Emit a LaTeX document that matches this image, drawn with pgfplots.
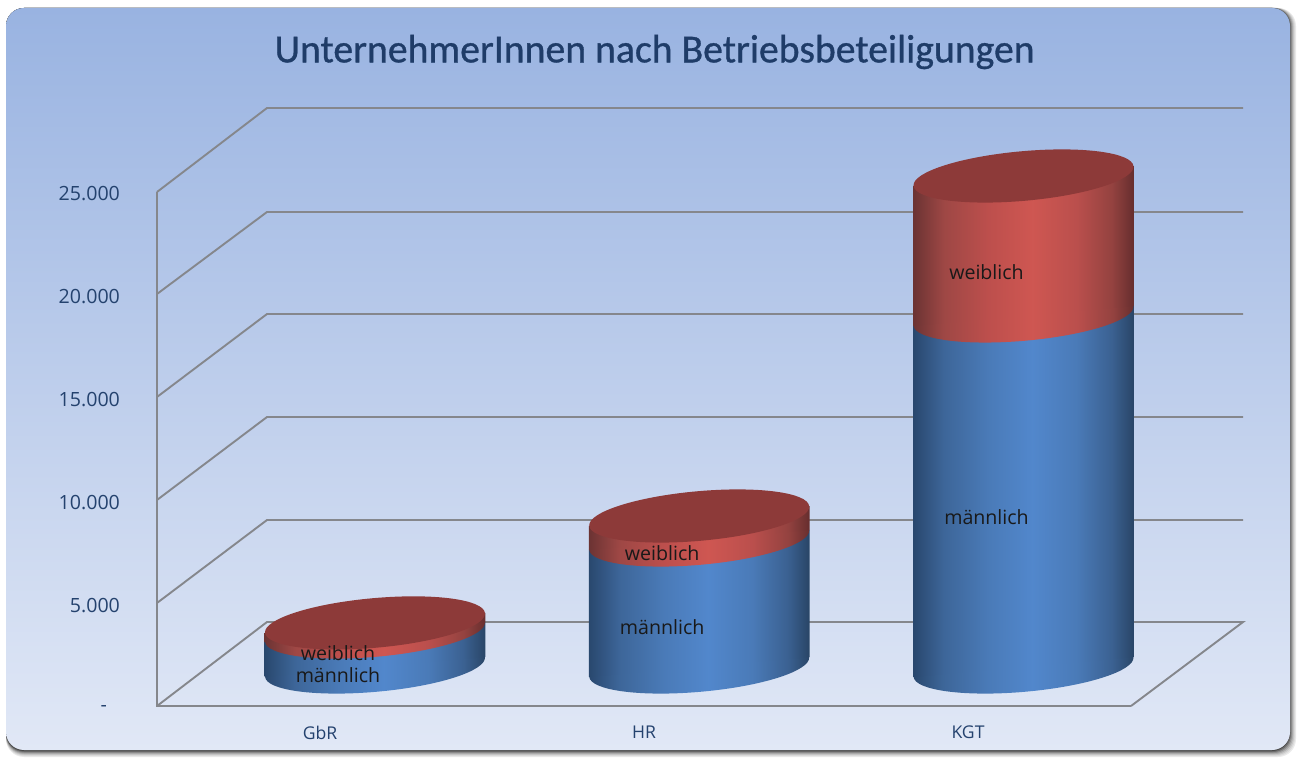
\documentclass[border=0pt]{standalone}
\usepackage{fontspec}
\setmainfont{Open Sans}
\newfontfamily\titlefont[FakeBold=0.8]{Carlito}
\usepackage{pgfplots}
\pgfplotsset{compat=1.18}
\definecolor{ink}{HTML}{24426E}
\definecolor{titleink}{HTML}{1F3C68}
\definecolor{gridc}{HTML}{85878C}
\definecolor{topred}{HTML}{8D3A39}
\definecolor{cardtop}{HTML}{99B3E1}
\definecolor{cardbot}{HTML}{E1E8F6}
\pgfdeclarehorizontalshading{cylblue}{100bp}{rgb(0bp)=(.16,.28,.43);rgb(25bp)=(.16,.28,.43);rgb(32bp)=(.24,.40,.60);rgb(42bp)=(.29,.48,.72);rgb(52bp)=(.32,.53,.80);rgb(62bp)=(.29,.48,.72);rgb(70bp)=(.23,.38,.57);rgb(75bp)=(.16,.27,.40);rgb(100bp)=(.16,.27,.40)}
\pgfdeclarehorizontalshading{cylred}{100bp}{rgb(0bp)=(.42,.20,.20);rgb(25bp)=(.42,.20,.20);rgb(32bp)=(.62,.28,.27);rgb(42bp)=(.74,.31,.30);rgb(52bp)=(.81,.34,.32);rgb(62bp)=(.73,.31,.30);rgb(70bp)=(.58,.26,.25);rgb(75bp)=(.40,.18,.18);rgb(100bp)=(.40,.18,.18)}
\pgfplotsset{cyl/.style={
  anchor=origin, hide axis, clip=false,
  x={(0.5pt,0.045pt)}, y={(0pt,0.0103pt)},
  xmin=-110, xmax=110, ymin=0, ymax=26000}}
\tikzset{ell/.style={x radius=55.2pt, y radius=12.4pt, rotate=5.1}}
% #1 x position, #2 männlich, #3 männlich + weiblich, #4 and #5 heights of the two labels
\newcommand{\cylinder}[5]{%
\begin{axis}[cyl, at={(#1pt,46.5pt)}]
\path[shade,shading=cylblue] (axis cs:0,0) ellipse [ell];
\addplot[draw=none,shade,shading=cylblue] coordinates {(-110.4,0)(110.4,0)(110.4,#2)(-110.4,#2)};
\end{axis}
\begin{axis}[cyl, at={(#1pt,46.5pt)}]
\path[shade,shading=cylred] (axis cs:0,#2) ellipse [ell];
\addplot[draw=none,shade,shading=cylred] coordinates {(-110.4,#2)(110.4,#2)(110.4,#3)(-110.4,#3)};
\coordinate (top) at (axis cs:0,#3);
\coordinate (lm) at (axis cs:-37,#4);
\coordinate (lw) at (axis cs:-37,#5);
\end{axis}
\fill[topred] (top) ellipse [ell];
\node[font=\fontsize{9.8}{11}\selectfont,text=black!90] at (lw) {weiblich};
\node[font=\fontsize{9.8}{11}\selectfont,text=black!90] at (lm) {männlich};
}
\begin{document}
\begin{tikzpicture}
\useasboundingbox (0,0) rectangle (650pt,380pt);
% card with soft shadow
\foreach \o/\g in {0/8,0.5/14,1/22,1.5/32,2/44,2.5/58,3/72}{
  \fill[black!\g!white, rounded corners=9pt] (3pt,{1.5pt+\o*1pt}) rectangle ({648pt-\o*1pt},376pt);
}
\shade[top color=cardtop,bottom color=cardbot,rounded corners=9pt] (3pt,5pt) rectangle (645pt,376pt);
\node[font=\titlefont\fontsize{19.85}{24}\selectfont,text=titleink] at (327.3pt,354pt) {UnternehmerInnen nach Betriebsbeteiligungen};
% walls, floor and grid
\begin{axis}[
  at={(78.5pt,27pt)}, anchor=south west, scale only axis, clip=false,
  width=543pt, height=299pt,
  xmin=157, xmax=1243, ymin=0, ymax=29029,
  scaled y ticks=false,
  axis line style={draw=none}, tick style={draw=none},
  xtick={320,644,968}, xticklabels={GbR,HR,KGT},
  ytick={0,5000,10000,15000,20000,25000},
  yticklabels={-\rule{6.5pt}{0pt},{5.000},{10.000},{15.000},{20.000},{25.000}},
  tick label style={text=ink,font=\fontsize{9.8}{11}\selectfont},
  x tick label style={yshift=-6.5pt,font=\fontsize{8.8}{10}\selectfont},
  y tick label style={anchor=east,xshift=-15pt,yshift=-1.3pt},
]
\addplot[gridc,line width=0.95pt] coordinates {(157,5000)(267,9029)(1243,9029)};
\addplot[gridc,line width=0.95pt] coordinates {(157,10000)(267,14029)(1243,14029)};
\addplot[gridc,line width=0.95pt] coordinates {(157,15000)(267,19029)(1243,19029)};
\addplot[gridc,line width=0.95pt] coordinates {(157,20000)(267,23981)(1243,23981)};
\addplot[gridc,line width=0.95pt] coordinates {(157,24951)(267,29029)(1243,29029)};
\addplot[gridc,line width=0.95pt] coordinates {(157,0)(267,4078)(1243,4078)(1131,0)};
\addplot[gridc,line width=1.2pt] coordinates {(157,24951)(157,0)(1131,0)};
\end{axis}
\cylinder{187.5}{1700}{2140}{-227}{841}
\cylinder{349.6}{6165}{7330}{2103}{5695}
\cylinder{511.75}{17040}{23835}{7442}{19335}
\end{tikzpicture}
\end{document}
